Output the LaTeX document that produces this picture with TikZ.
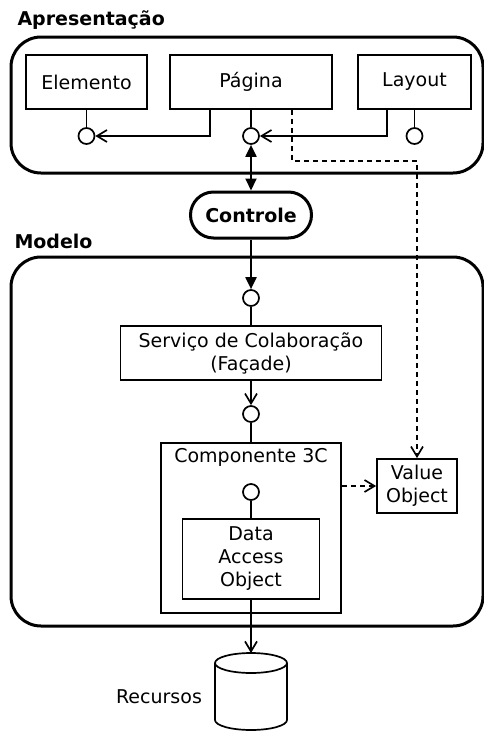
\documentclass[tikz,border=0pt]{standalone}
\usepackage{fontspec}
\setmainfont{DejaVu Sans}
\usetikzlibrary{arrows.meta,positioning}

\begin{document}
\begin{tikzpicture}[x=1pt,y=-1pt,
  every node/.style={font=\fontsize{19}{23}\selectfont},
  caixa/.style={draw,line width=1.7pt,inner sep=0pt,align=center},
  porta/.style={draw,circle,line width=1.7pt,minimum size=16pt,inner sep=0pt},
  grupo/.style={line width=3pt,rounded corners=30pt},
  titulo/.style={anchor=west,font=\fontsize{19}{23}\selectfont\bfseries},
  liga/.style={line width=1.7pt},
  aberta/.style={liga,-{Straight Barb[length=10pt,width=12pt]}},
  cheia/.style={line width=2pt,-{Triangle[length=12pt,width=11pt]}},
  tracejada/.style={aberta,dash pattern=on 5pt off 4pt}]
  \useasboundingbox (0,0) rectangle (484,731);
  % Apresentacao
  \node[titulo] (tApr) at (14,20) {Apresentação};
  \draw[grupo] (11,37) rectangle (483,173);
  \node[caixa,minimum width=121,minimum height=54] (elem) at (86.5,82) {Elemento};
  \node[caixa,minimum width=162,minimum height=54] (pag) at (251,82) {Página};
  \node[caixa,minimum width=113,minimum height=54] (lay) at (414.5,82) {Layout};
  \node[porta] (pElem) at (86.5,136) {};
  \node[porta] (pPag) at (251,136) {};
  \node[porta] (pLay) at (414.5,136) {};
  \draw[liga] (elem) -- (pElem) (pag) -- (pPag) (lay) -- (pLay);
  \draw[aberta] ([xshift=-41pt]pag.south) |- (pElem.east);
  \draw[aberta] ([xshift=-27.5pt]lay.south) |- (pPag.east);
  % Controle
  \node[draw,line width=3pt,rounded corners=23pt,minimum width=121,minimum height=46,
    font=\fontsize{19}{23}\selectfont\bfseries] (ctrl) at (251,215) {Controle};
  \draw[line width=2pt,{Triangle[length=12pt,width=11pt]}-{Triangle[length=12pt,width=11pt]}]
    (pPag) -- (ctrl);
  % Modelo
  \node[titulo] (tMod) at (11,241) {Modelo};
  \draw[grupo] (11,257) rectangle (483,626);
  \node[porta] (pSvc) at (251,298) {};
  \draw[cheia] (ctrl) -- (pSvc);
  \node[caixa,minimum width=261,minimum height=54] (svc) at (251,353)
    {Serviço de Colaboração\\(Façade)};
  \draw[liga] (pSvc) -- (svc);
  \node[porta] (pComp) at (251,414) {};
  \draw[aberta] (svc) -- (pComp);
  \node[caixa,minimum width=180,minimum height=170] (comp) at (251,528) {};
  \node[below=3pt of comp.north] (tComp) {Componente 3C};
  \draw[liga] (pComp) -- (comp);
  \node[porta] (pDao) at (251,492) {};
  \node[caixa,minimum width=137,minimum height=80] (dao) at (251,559) {Data\\Access\\Object};
  \draw[liga] (pDao) -- (dao);
  \node[caixa,minimum width=80,minimum height=54] (vo) at (417,486) {Value\\Object};
  \draw[tracejada] (comp.east |- vo.west) -- (vo.west);
  \draw[tracejada] ([xshift=41pt]pag.south) -- ++(0,51) -| (vo.north); % desde Pagina
  % Recursos
  \coordinate (bd) at (251,653);
  \draw[liga] (251,663) ellipse [x radius=36,y radius=10];
  \draw[liga] (215,663) -- (215,720) arc[start angle=180,end angle=0,x radius=36,y radius=10]
    -- (287,663);
  \draw[aberta] (dao) -- (bd);
  \node (rec) at (159,697) {Recursos};
\end{tikzpicture}
\end{document}
